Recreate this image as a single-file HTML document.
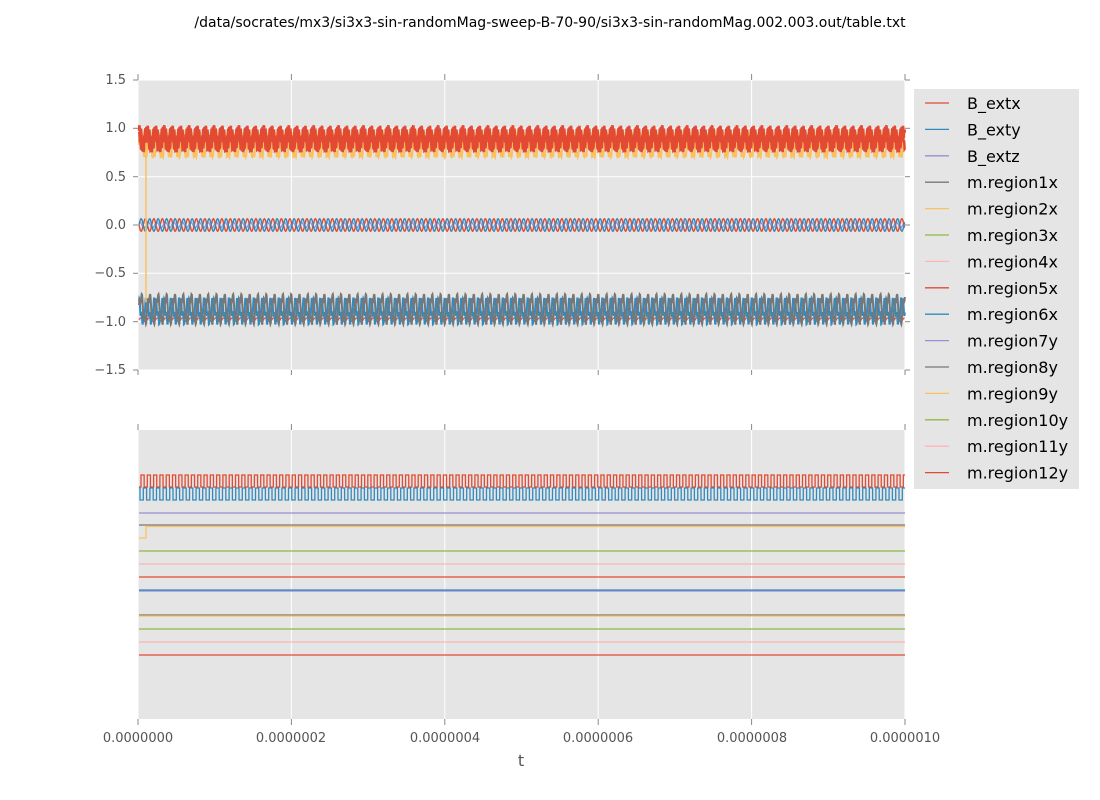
<!DOCTYPE html>
<html><head><meta charset="utf-8"><style>
body{margin:0;background:#fff;}
svg{display:block;font-family:"DejaVu Sans","Liberation Sans",sans-serif;}
</style></head><body>
<svg id="s" width="1100" height="800" xmlns="http://www.w3.org/2000/svg">
<rect width="1100" height="800" fill="#fff"/>
<text x="550" y="27" font-size="14" text-anchor="middle" fill="#000">/data/socrates/mx3/si3x3-sin-randomMag-sweep-B-70-90/si3x3-sin-randomMag.002.003.out/table.txt</text>
<rect x="138" y="80" width="767" height="290" fill="#e5e5e5"/>
<rect x="138" y="430" width="767" height="289" fill="#e5e5e5"/>
<g id="grid" stroke="#fff" stroke-width="1"></g>
<g id="ticks" stroke="#888" stroke-width="1"></g>
<g id="data" fill="none" stroke-width="1.2"></g>
<g font-size="13" fill="#555" text-anchor="end">
<text x="126" y="84">1.5</text><text x="126" y="132">1.0</text><text x="126" y="181">0.5</text>
<text x="126" y="229">0.0</text><text x="126" y="277">−0.5</text><text x="126" y="326">−1.0</text><text x="126" y="374">−1.5</text>
</g>
<g font-size="13" fill="#555" text-anchor="middle">
<text x="138" y="742">0.0000000</text><text x="291" y="742">0.0000002</text><text x="445" y="742">0.0000004</text>
<text x="598" y="742">0.0000006</text><text x="752" y="742">0.0000008</text><text x="905" y="742">0.0000010</text>
</g>
<text x="521" y="766" font-size="16" fill="#555" text-anchor="middle">t</text>
<rect x="914" y="89" width="165" height="400" fill="#e5e5e5"/>
<g id="leg" font-size="16" fill="#000"></g>
</svg>
<script>
var NS="http://www.w3.org/2000/svg";
function el(p,t,a){var e=document.createElementNS(NS,t);for(var k in a)e.setAttribute(k,a[k]);document.getElementById(p).appendChild(e);return e;}
var xs=[138,291.4,444.8,598.2,751.6,905];
var ty=[80,128.3,176.7,225,273.3,321.7,370];
xs.forEach(function(x){el('grid','line',{x1:x,y1:80,x2:x,y2:370});el('grid','line',{x1:x,y1:430,x2:x,y2:719});
el('ticks','line',{x1:x,y1:74,x2:x,y2:80});el('ticks','line',{x1:x,y1:370,x2:x,y2:375});
el('ticks','line',{x1:x,y1:424,x2:x,y2:430});el('ticks','line',{x1:x,y1:719,x2:x,y2:725});});
ty.forEach(function(y){el('grid','line',{x1:138,y1:y,x2:905,y2:y});el('ticks','line',{x1:133,y1:y,x2:138,y2:y});el('ticks','line',{x1:905,y1:y,x2:910,y2:y});});
var C={r:"#E24A33",b:"#348ABD",p:"#988ED5",g:"#777777",o:"#FBC15E",gr:"#8EBA42",pk:"#FFB5B8"};
function Y(v){return 225-v*96.67;}
function path(col,f,step,w){var d="";for(var x=139;x<=905;x+=step){d+=(d?"L":"M")+x.toFixed(2)+","+f(x).toFixed(2);}el('data','path',{d:d,stroke:col,'stroke-width':w||1.2});}
var P=8.3;
path(C.o,function(x){var ph=(x-139)/P*2*Math.PI;return Y(0.83+0.13*Math.sin(ph)+0.05*Math.sin(3*ph));},0.4,2);
path(C.r,function(x){var ph=(x-139)/P*2*Math.PI;return Y(0.89+0.1*Math.sin(ph+1)+0.04*Math.sin(5*ph));},0.3,2.5);
path(C.r,function(x){var ph=(x-139)/P*2*Math.PI;return Y(0.89+0.1*Math.sin(ph+2.5)+0.03*Math.sin(7*ph));},0.3,2.5);
path(C.p,function(x){return Y(0.03*Math.sin((x-139)/8.5*2*Math.PI+1));},0.8);
path(C.r,function(x){return Y(0.065*Math.sin((x-139)/8.5*2*Math.PI+Math.PI));},0.6,1.4);
path(C.b,function(x){return Y(0.065*Math.sin((x-139)/8.5*2*Math.PI));},0.6,1.4);
path(C.pk,function(x){var ph=(x-139)/P*2*Math.PI;return Y(-0.85+0.04*Math.sin(ph));},0.8);
path(C.r,function(x){var ph=(x-139)/P*2*Math.PI;return Y(-0.98+0.02*Math.sin(ph));},0.8);
path(C.b,function(x){var ph=(x-139)/P*2*Math.PI;return Y(-0.88+0.1*Math.sin(ph+2)+0.05*Math.sin(4*ph));},0.3,2);
path(C.g,function(x){var ph=(x-139)/P*2*Math.PI;return Y(-0.87+0.13*Math.sin(ph)+0.05*Math.sin(3*ph+1));},0.3,2);
el('data','line',{x1:146,y1:Y(0.85),x2:146,y2:Y(-0.8),stroke:C.o,'stroke-width':1.5});
function sq(col,y0,y1,per,off){var d="M139,"+y0;var hi=false;for(var x=139+off;x<905;x+=per/2){d+="L"+x.toFixed(2)+","+(hi?y1:y0);hi=!hi;d+="L"+x.toFixed(2)+","+(hi?y1:y0);}d+="L905,"+(hi?y1:y0);el('data','path',{d:d,stroke:col,'stroke-width':1.3});}
sq(C.r,487,475,6.3,2);
sq(C.b,488,500,6.6,1);
function hl(col,y,x0){el('data','line',{x1:x0||139,y1:y,x2:905,y2:y,stroke:col,'stroke-width':1.3});}
hl(C.p,513);hl(C.g,525);hl(C.o,526.5,146);
el('data','path',{d:"M139,538L146,538L146,526.5",stroke:C.o,'stroke-width':1.3});
hl(C.gr,551);hl(C.pk,564);hl(C.r,577);hl(C.p,591);hl(C.b,590);
hl(C.g,615);hl(C.o,616);hl(C.gr,629);hl(C.pk,642);hl(C.r,655);
var L=[["B_extx",C.r],["B_exty",C.b],["B_extz",C.p],["m.region1x",C.g],["m.region2x",C.o],["m.region3x",C.gr],["m.region4x",C.pk],["m.region5x",C.r],["m.region6x",C.b],["m.region7y",C.p],["m.region8y",C.g],["m.region9y",C.o],["m.region10y",C.gr],["m.region11y",C.pk],["m.region12y",C.r]];
L.forEach(function(l,i){var y=103+i*26.4;el('leg','line',{x1:925,y1:y,x2:949,y2:y,stroke:l[1],'stroke-width':1.3});var t=el('leg','text',{x:967,y:y+6});t.textContent=l[0];});
</script>
</body></html>
